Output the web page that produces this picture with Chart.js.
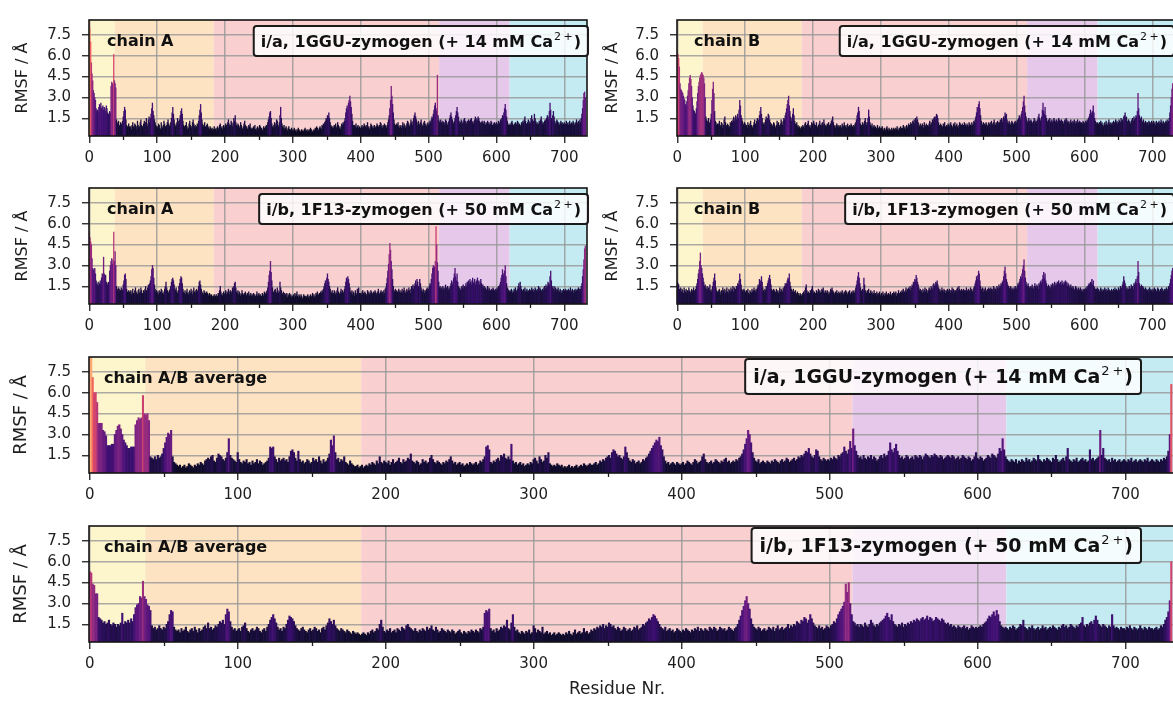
<!DOCTYPE html>
<html>
<head>
<meta charset="utf-8">
<script src="https://cdn.jsdelivr.net/npm/chart.js@4.4.1/dist/chart.umd.min.js"></script>
<style>
  html, body { margin: 0; padding: 0; background: #ffffff; width: 1173px; height: 705px; overflow: hidden; position: relative; }
  canvas { position: absolute; }
</style>
</head>
<body>
<canvas id="iaA"></canvas>
<canvas id="iaB"></canvas>
<canvas id="ibA"></canvas>
<canvas id="ibB"></canvas>
<canvas id="iaAvg"></canvas>
<canvas id="ibAvg"></canvas>
<script>
// Axis ticks
const residueTicks = [0, 100, 200, 300, 400, 500, 600, 700];
const residueMinorTicks = [50, 150, 250, 350, 450, 550, 650];
const rmsfTicks = [1.5, 3.0, 4.5, 6.0, 7.5];

// Domain ranges along the sequence (residue numbers) and their shading
const domainStart = [0, 38, 184, 516, 620];
const domainEnd = [38, 184, 516, 620, 734];
const domainColor = ['#fdf5cb', '#fde3c2', '#f9cfd0', '#e6c8ea', '#c3ebf1'];

// Simulated systems
const systemNames = ['i/a, 1GGU-zymogen', 'i/b, 1F13-zymogen'];
const calciumConc = ['14 mM', '50 mM'];

// Per-residue RMSF, in units of 0.1 Å (residues 0..731)
const rmsfIaChainA = [
85,80,70,55,47,42,35,33,30,28,22,20,21,19,23,25,24,26,22,23,
24,21,23,22,20,24,22,19,18,17,20,19,38,41,40,39,61,42,40,37,
14,12,11,13,10,9,12,11,10,13,16,20,23,21,14,10,9,8,11,9,
8,9,7,10,12,9,8,11,10,7,9,13,10,8,9,12,14,10,9,8,
11,13,10,12,15,11,9,14,16,12,15,18,22,26,20,17,14,12,10,9,
8,9,11,10,8,7,12,9,8,10,13,11,9,8,10,12,14,11,9,10,
12,15,19,23,18,14,11,9,10,12,15,13,11,14,17,20,22,18,13,10,
9,8,10,12,9,7,8,11,13,10,9,8,12,14,11,9,10,8,9,11,
10,13,17,21,25,19,14,11,9,10,12,9,8,10,11,9,8,7,9,8,
7,8,6,7,9,8,7,6,8,9,7,8,10,11,9,8,7,9,10,8,
9,11,10,8,12,14,11,9,10,13,12,9,11,15,13,17,12,10,9,11,
10,8,9,12,10,8,7,9,11,13,10,8,9,7,8,10,9,11,8,7,
8,7,9,8,10,7,6,8,9,7,8,10,9,7,8,6,7,9,8,7,
9,10,8,12,14,16,19,20,15,11,9,8,10,12,9,11,14,13,10,9,
12,17,23,15,11,9,8,10,7,8,9,7,6,8,9,7,6,7,8,6,
7,6,8,7,6,5,7,6,8,7,6,5,6,7,6,5,6,7,8,6,
6,7,5,6,7,6,8,7,6,5,6,7,6,8,7,9,8,7,6,8,
9,8,7,10,9,11,10,12,13,15,14,17,16,19,15,12,10,9,8,9,
8,10,9,11,8,9,12,10,9,8,7,9,11,10,12,11,13,15,19,22,
24,21,26,28,31,27,23,18,13,10,8,10,9,11,8,9,10,8,9,7,
8,9,10,8,9,11,10,9,8,10,12,9,8,7,9,11,10,8,9,8,
10,9,8,9,11,10,9,8,10,12,11,9,8,10,9,11,10,9,8,10,
12,14,17,22,28,38,31,25,19,14,11,10,9,11,10,12,9,8,10,9,
8,10,12,9,11,10,8,9,11,13,12,10,9,11,14,12,10,13,15,17,
19,16,14,12,10,13,11,10,12,14,11,9,10,12,13,11,10,9,11,12,
10,11,13,12,14,16,15,18,21,24,26,22,20,46,17,14,12,13,14,12,
11,13,12,10,12,14,13,11,10,12,13,15,17,19,16,14,12,11,13,15,
17,20,23,19,16,13,11,12,14,13,11,12,14,15,13,12,11,13,12,14,
13,12,14,15,13,12,11,13,14,16,15,13,14,16,15,13,12,11,12,13,
12,11,13,12,10,11,12,13,11,12,10,11,13,12,10,9,11,12,10,11,
12,11,10,13,12,11,14,13,15,17,16,19,22,25,21,16,13,11,10,10,
11,10,12,13,11,10,9,11,12,10,11,13,12,10,11,9,10,12,11,13,
12,14,16,13,11,10,12,14,13,11,12,15,17,14,12,13,18,15,13,11,
12,10,11,13,12,14,16,13,11,12,10,13,14,12,15,17,16,14,20,26,
21,15,13,17,20,16,13,11,12,14,13,12,11,10,12,13,11,12,10,11,
12,10,11,13,12,11,10,12,13,11,10,12,11,13,12,10,11,12,14,11,
12,13,11,14,12,15,18,22,28,33,34,30
];

const rmsfIaChainB = [
62,61,58,52,40,36,35,34,33,31,29,28,25,24,27,31,35,40,44,46,
43,38,30,24,21,20,19,18,22,27,33,38,41,44,46,47,48,47,46,44,
40,30,16,14,13,12,15,12,11,14,18,28,36,41,33,20,13,12,10,11,
9,11,13,10,9,12,11,8,10,14,16,12,10,9,11,10,8,9,12,11,
13,12,14,16,13,15,17,14,16,18,15,21,28,24,17,15,13,11,10,12,
11,9,10,8,12,10,9,11,13,10,9,8,10,12,14,11,10,13,15,12,
14,17,20,23,18,15,12,11,10,12,14,16,13,15,18,17,14,12,10,11,
9,10,12,11,9,8,10,13,11,12,10,9,11,14,12,10,13,15,14,17,
19,22,25,28,31,24,20,16,13,15,18,22,17,13,11,10,12,9,10,8,
9,8,7,9,8,10,9,8,11,12,10,9,11,13,10,9,8,10,12,11,
10,13,11,9,10,12,9,8,10,11,13,10,9,11,12,10,14,11,9,10,
9,11,10,12,10,9,11,13,14,16,12,10,9,8,10,11,9,10,8,9,
10,9,8,11,10,9,12,10,9,8,10,11,9,8,10,9,11,10,9,8,
10,9,11,12,14,17,19,23,20,15,11,10,9,12,10,11,13,15,12,10,
12,15,21,16,12,10,9,11,8,9,10,8,9,7,8,10,8,7,9,8,
7,8,9,7,6,8,7,6,8,9,7,6,8,7,6,7,8,6,7,8,
7,6,8,7,9,7,6,8,7,9,8,7,8,10,9,8,7,9,10,8,
9,11,10,8,12,11,10,13,12,14,11,15,13,16,14,12,10,9,11,10,
9,11,10,8,12,10,9,11,8,10,9,11,13,10,12,11,14,13,15,16,
14,16,18,17,15,12,10,9,11,10,8,9,11,10,12,9,8,10,9,11,
10,9,11,12,10,9,8,11,10,12,9,10,11,9,8,10,12,11,9,10,
11,9,10,12,11,10,9,11,10,9,12,11,10,9,12,10,11,13,12,14,
16,19,23,21,25,27,22,17,13,11,10,12,9,11,10,12,11,9,10,12,
11,10,12,13,11,10,12,14,11,10,12,11,13,12,10,12,14,13,15,12,
14,16,15,19,17,18,14,12,11,13,12,10,11,13,12,11,10,12,13,11,
12,14,13,15,17,16,14,18,20,23,27,31,24,19,16,14,12,13,15,13,
12,14,13,11,12,13,15,14,12,13,11,14,16,18,15,13,14,16,21,26,
20,18,23,17,15,13,12,14,13,15,12,13,14,12,13,15,14,12,13,14,
12,13,15,14,12,13,14,12,13,11,12,14,13,15,14,12,13,12,11,13,
14,12,11,13,12,14,13,11,12,13,14,12,11,13,12,10,12,11,13,12,
11,12,13,12,14,13,15,16,18,21,19,17,20,24,19,15,13,12,11,12,
10,11,12,10,13,11,12,10,9,11,12,10,13,11,10,12,14,11,12,10,
11,12,10,13,12,11,14,12,13,11,12,14,13,12,15,13,14,12,16,17,
19,15,16,13,12,14,13,12,11,13,14,15,13,16,14,15,17,16,20,33,
22,17,15,14,16,13,12,14,11,12,13,12,11,12,10,13,12,11,12,13,
11,12,13,11,12,10,13,12,11,12,13,11,12,14,12,11,13,12,11,12,
13,12,14,12,13,15,19,24,30,36,40,34
];

const rmsfIbChainA = [
54,50,47,45,35,28,27,26,28,24,19,17,16,18,15,17,19,16,21,24,
23,36,24,22,23,18,17,16,18,17,26,30,33,35,31,34,54,33,40,30,
15,13,12,14,13,11,12,14,13,12,16,19,23,24,20,13,11,10,12,11,
10,12,9,11,13,10,9,12,14,11,10,9,12,13,10,11,14,12,10,9,
12,11,13,15,12,10,14,16,13,17,19,22,27,30,28,21,16,13,11,12,
10,11,9,12,10,11,13,12,10,9,11,13,15,18,14,12,11,10,12,13,
15,18,20,21,19,16,13,12,14,11,10,12,15,17,20,22,21,17,13,11,
10,12,9,11,13,10,9,11,12,10,13,11,9,12,14,11,10,12,13,11,
12,15,18,19,16,13,11,10,9,12,11,10,9,11,10,9,8,10,9,8,
9,8,7,8,9,7,8,9,7,8,10,9,12,15,11,9,8,10,11,9,
10,12,9,11,10,13,11,9,12,10,11,14,13,15,17,18,14,11,10,12,
9,11,10,8,9,12,10,9,8,10,11,9,8,10,9,11,8,9,10,8,
9,8,10,9,7,8,9,11,8,9,10,8,9,7,8,10,9,8,11,10,
9,11,12,14,18,23,26,33,25,19,14,11,10,12,13,11,10,14,12,10,
11,18,14,12,10,9,11,8,10,9,8,10,7,9,8,10,8,9,7,8,
8,9,7,10,8,9,11,8,7,9,8,7,9,8,6,7,9,8,7,8,
7,8,9,7,8,6,9,8,7,10,8,9,7,8,10,9,11,8,9,10,
9,11,10,12,11,13,15,17,19,16,21,24,20,18,15,13,11,10,12,9,
10,12,11,9,10,12,14,11,10,9,11,13,10,12,11,10,13,15,18,21,
19,22,20,17,14,11,10,12,9,11,10,8,12,10,9,13,11,14,10,9,
10,9,11,12,10,9,11,10,8,9,12,10,11,9,10,12,11,9,10,11,
10,12,11,9,10,11,13,10,9,11,12,10,11,9,12,10,13,14,17,21,
26,31,38,46,41,33,27,20,15,12,11,13,10,12,11,10,13,11,12,10,
11,13,10,12,14,11,10,12,13,11,12,14,12,10,13,15,14,16,13,15,
17,19,16,20,18,15,14,20,17,14,12,11,13,12,10,12,11,13,14,12,
13,15,17,16,20,24,28,30,27,29,33,58,45,32,26,18,14,15,13,14,
12,15,13,14,12,16,14,13,15,12,14,13,15,17,19,16,18,21,24,28,
22,19,24,18,15,13,14,12,13,15,14,16,13,15,14,17,15,18,16,19,
17,20,18,16,19,21,17,18,20,16,18,19,21,17,19,16,18,20,17,15,
16,14,15,13,14,12,13,15,12,14,13,12,11,13,12,14,13,12,11,13,
12,14,13,15,14,16,18,21,23,27,24,22,26,30,22,17,14,13,12,11,
12,11,13,12,10,11,13,12,14,12,11,13,15,17,14,18,15,13,12,11,
13,12,14,11,12,13,11,12,10,13,12,11,14,12,13,11,12,14,13,12,
11,13,15,12,14,13,12,11,13,12,14,15,13,16,14,15,18,17,16,22,
26,19,15,14,13,15,12,14,11,13,12,14,12,11,13,12,10,12,11,13,
12,11,13,12,10,12,13,11,12,14,12,11,13,12,10,12,13,11,12,13,
12,14,13,11,13,15,17,22,27,34,42,44
];

const rmsfIbChainB = [
18,17,16,13,12,14,11,13,12,10,14,12,11,13,10,12,11,14,12,10,
11,13,12,10,14,12,11,13,15,17,20,24,27,33,39,30,28,24,21,18,
15,16,14,13,15,12,14,13,16,12,11,13,15,18,21,24,19,14,12,11,
10,12,13,11,9,12,10,14,12,11,13,10,12,14,11,10,13,12,11,14,
12,13,15,11,14,12,13,15,14,17,16,19,24,20,16,13,12,11,13,12,
11,10,12,11,13,10,9,12,11,10,13,11,12,14,12,11,13,12,14,16,
15,20,17,19,22,18,14,12,11,13,12,15,14,17,19,21,23,20,16,13,
12,11,13,12,10,11,13,12,11,10,12,14,11,13,12,11,14,13,15,17,
15,17,19,21,20,24,18,15,13,12,11,13,10,11,12,10,9,11,10,9,
8,10,9,8,9,10,11,9,12,14,16,12,10,11,9,10,12,11,13,15,
12,10,11,9,10,12,11,10,13,11,12,10,11,13,12,14,11,10,12,11,
10,12,11,9,10,11,13,12,14,12,11,10,9,11,10,12,10,9,11,10,
9,11,10,12,10,9,11,10,12,11,10,9,11,10,12,9,10,11,10,12,
11,10,12,14,16,19,22,25,21,17,14,12,11,13,12,21,16,12,11,10,
12,11,13,10,9,12,10,11,9,10,12,9,10,8,11,9,10,9,11,8,
9,10,8,11,9,8,10,9,11,8,9,10,8,9,11,9,8,10,9,11,
10,9,11,8,10,9,12,10,9,11,10,12,11,13,10,11,12,14,11,13,
12,14,13,15,12,14,16,15,18,17,20,19,23,21,18,16,14,12,13,11,
12,10,13,11,12,14,11,13,12,10,12,14,13,12,15,14,13,16,17,15,
16,18,17,19,16,14,12,13,11,12,14,12,11,13,12,10,12,11,13,12,
11,13,12,10,12,14,11,13,12,10,12,11,13,14,12,15,13,12,11,13,
12,11,13,12,10,12,14,11,12,13,11,12,14,12,13,11,12,14,15,17,
19,22,20,23,26,24,19,15,13,12,14,11,13,12,14,12,11,13,12,14,
13,12,14,13,11,13,15,12,14,13,12,15,14,13,16,14,15,17,16,18,
19,22,26,29,24,20,18,16,15,14,13,15,12,14,13,12,14,13,15,14,
13,15,17,16,18,20,22,21,24,27,30,34,26,21,18,16,15,17,15,14,
13,15,14,16,14,13,15,17,15,14,16,15,13,17,16,18,19,17,20,23,
25,21,24,19,17,15,14,16,15,13,14,16,15,17,14,16,18,15,17,16,
18,16,19,17,15,18,16,19,17,16,18,17,19,16,18,15,17,16,14,15,
16,14,13,15,14,12,13,15,14,13,12,14,13,12,14,13,12,11,13,12,
13,12,14,13,15,14,16,17,15,18,17,20,16,19,15,14,13,12,13,14,
12,13,11,12,14,12,13,11,12,13,14,12,13,11,12,14,13,12,11,12,
13,12,11,13,12,14,12,13,11,12,14,13,12,15,13,14,16,18,22,19,
17,15,13,14,12,13,15,14,13,16,14,15,13,17,16,18,20,17,22,33,
25,17,15,14,16,13,15,14,12,13,14,12,13,12,11,13,14,12,13,12,
11,13,12,14,12,13,11,12,14,13,12,11,13,12,14,13,12,11,13,12,
13,14,12,13,15,14,17,20,23,26,28,22
];

const rmsfIaAverage = [
86,86,71,60,60,53,38,38,38,33,32,29,22,22,22,23,23,30,33,36,
37,34,30,26,24,22,20,20,21,21,21,37,40,42,41,42,58,45,44,45,
40,14,13,12,14,12,15,13,14,16,20,24,28,31,30,33,14,10,9,8,
7,8,6,7,8,6,7,9,8,7,6,8,7,9,8,10,9,8,11,12,
13,12,14,15,11,10,13,16,15,14,12,11,13,17,27,15,13,12,11,10,
17,12,10,9,11,10,12,9,10,8,11,9,10,12,9,11,10,8,9,10,
11,13,21,20,21,14,12,10,13,11,12,13,11,12,10,14,18,19,17,13,
11,18,12,10,11,9,10,12,11,9,10,13,11,12,10,14,11,9,12,10,
11,13,16,26,22,29,17,12,13,10,12,11,14,10,9,8,11,9,8,7,
7,8,6,7,8,6,7,8,7,9,8,10,9,8,11,9,14,10,9,11,
10,9,11,8,10,12,9,10,11,13,10,9,12,10,11,13,12,16,11,10,
9,11,10,8,9,12,10,11,9,10,13,15,12,10,9,11,10,9,8,10,
9,11,10,12,14,11,9,10,8,9,10,8,9,7,8,9,8,10,9,8,
9,10,8,9,11,10,12,14,21,22,19,10,9,11,10,12,13,11,15,14,
16,13,12,14,12,23,11,9,10,8,9,10,8,9,7,8,9,8,10,9,
12,13,11,9,14,12,10,11,15,13,17,9,8,7,8,7,9,8,7,8,
6,7,6,7,8,6,7,6,7,8,6,7,8,7,9,8,7,8,9,8,
8,9,10,8,9,11,10,12,11,13,14,15,13,17,19,18,16,14,15,13,
12,14,21,17,13,11,10,12,11,9,10,11,9,10,12,11,13,14,16,18,
20,22,24,26,25,28,22,19,14,11,9,10,8,9,10,9,8,10,9,8,
9,10,8,9,11,10,9,8,10,12,11,9,10,11,14,16,12,10,9,10,
11,9,10,12,11,10,9,11,10,12,13,10,11,9,10,11,10,12,11,13,
14,16,19,23,27,33,30,24,17,13,11,10,12,9,10,11,10,9,11,10,
9,11,10,12,11,10,9,11,12,10,11,13,12,10,11,12,13,11,12,14,
13,15,14,16,18,17,20,16,14,13,15,19,18,14,12,11,13,12,11,12,
11,13,12,14,13,12,15,14,16,17,21,18,16,19,25,20,34,22,18,15,
13,14,12,15,13,12,14,13,15,12,14,13,11,12,14,15,13,16,14,15,
18,24,19,17,20,23,18,15,13,14,12,13,15,14,12,13,14,12,15,14,
13,15,14,12,14,16,15,14,13,15,14,16,15,14,13,15,14,12,13,14,
15,14,13,15,14,12,13,14,12,13,15,14,13,12,14,13,11,12,14,17,
13,12,14,13,11,12,13,15,14,13,16,15,14,13,16,20,18,27,19,14,
12,11,10,12,11,10,12,9,11,10,12,11,10,13,11,12,10,11,13,12,
11,15,12,11,10,12,11,13,12,11,10,13,12,15,12,10,11,12,13,11,
14,20,12,11,10,12,11,13,10,11,12,13,11,12,10,11,19,12,13,11,
12,13,14,33,15,20,13,12,11,12,10,13,11,12,10,11,12,10,11,12,
11,10,12,11,13,10,11,12,10,11,12,11,10,12,11,13,10,11,12,11,
10,12,11,10,12,11,13,12,14,18,30,66
];

const rmsfIbAverage = [
53,52,44,43,37,37,20,19,18,16,17,15,16,18,15,14,16,15,13,15,
14,16,23,15,17,16,18,16,19,17,22,27,29,30,35,34,46,35,33,29,
28,25,14,12,13,11,12,14,12,11,13,12,15,17,22,25,24,13,11,10,
11,9,12,10,11,13,10,9,11,12,10,13,11,9,12,10,11,13,14,12,
16,12,13,11,12,14,13,15,17,16,18,15,22,26,24,17,13,11,12,10,
11,12,10,13,14,16,12,10,9,11,12,10,11,13,12,10,9,11,12,10,
13,15,18,20,22,19,16,13,11,12,10,13,12,15,18,21,20,19,17,14,
12,11,10,12,13,11,10,9,11,12,10,11,13,12,10,11,9,12,13,11,
14,16,19,17,15,18,14,12,11,10,12,11,10,9,11,10,9,8,10,9,
8,9,8,7,8,9,8,7,9,8,10,11,9,10,12,11,15,18,13,10,
9,11,10,12,9,10,11,9,12,11,10,13,12,11,14,15,13,12,11,10,
12,10,9,11,10,12,11,10,13,11,12,14,11,10,13,11,9,10,12,11,
10,9,11,10,9,11,10,8,9,10,11,9,8,10,9,8,10,9,11,10,
9,11,10,9,12,11,13,23,25,24,26,12,10,11,9,12,10,11,13,12,
14,13,18,12,11,16,22,13,10,11,9,8,10,9,8,10,9,11,8,9,
14,12,9,11,10,9,13,8,9,10,8,9,7,8,9,7,8,9,8,7,
8,7,9,8,10,8,7,9,11,8,9,10,8,9,12,9,10,8,9,11,
10,12,11,13,12,14,13,15,12,14,13,16,15,13,14,12,11,13,12,10,
11,13,12,10,11,12,10,11,13,12,14,11,12,13,15,14,16,17,19,18,
20,22,21,19,17,15,13,12,11,13,10,11,12,10,11,9,10,12,11,10,
9,11,10,12,11,10,9,11,10,12,11,13,10,12,11,10,12,11,10,13,
12,11,13,12,10,11,13,12,11,12,10,11,13,12,11,10,12,13,15,18,
21,25,28,32,35,30,26,19,15,13,12,11,13,12,10,11,12,10,11,13,
12,11,13,10,12,14,11,12,13,11,12,13,15,12,14,13,15,14,17,16,
15,18,17,20,19,16,18,22,19,16,14,13,12,14,12,13,11,12,14,13,
12,14,15,17,16,19,22,24,26,28,31,44,38,45,30,22,17,16,14,15,
13,15,14,13,16,14,13,15,18,16,14,13,15,14,16,17,18,19,21,23,
20,18,22,17,15,14,13,15,14,16,13,15,14,16,15,17,16,18,17,19,
18,17,19,20,18,19,21,18,20,19,17,18,20,19,18,17,19,18,16,15,
16,14,15,13,14,13,12,14,13,12,13,14,12,13,11,12,14,13,12,13,
12,13,14,13,15,16,17,19,21,20,22,24,21,25,22,17,14,13,12,13,
12,11,13,12,14,13,11,12,13,15,14,18,13,12,11,13,12,14,12,11,
12,13,11,12,14,12,13,11,12,13,12,14,13,12,11,13,12,14,15,13,
14,12,13,15,14,13,12,14,13,15,16,20,14,13,15,14,16,17,15,18,
21,18,15,14,13,15,14,13,12,14,13,22,14,12,13,12,11,13,12,12,
11,13,12,14,12,11,13,12,11,12,14,12,11,13,12,11,13,12,12,11,
12,13,11,12,14,13,15,18,20,24,32,60
];

// matplotlib "magma" colour map, sampled at 0.0, 0.1, ..., 1.0
const magmaStops = ['#000004', '#140e36', '#3b0f70', '#641a80', '#8c2981', '#b73779',
                    '#de4968', '#f7705c', '#fe9f6d', '#fecf92', '#fcfdbf'];
const magmaRgb = magmaStops.map(h => [1, 3, 5].map(i => parseInt(h.substr(i, 2), 16)));
const COLOR_VMAX = 10.5;
function magma(t) {
  t = Math.max(0, Math.min(1, t));
  const p = t * 10, i = Math.min(9, Math.floor(p)), f = p - i;
  const a = magmaRgb[i], b = magmaRgb[i + 1];
  return 'rgb(' + a.map((c, k) => Math.round(c + (b[k] - c) * f)).join(',') + ')';
}

const FONT = 'DejaVu Sans';
const INK = '#1e1e1e';
const X_MIN = -0.5, X_MAX = 733.5;

// Panel layout: canvas placement plus the fixed widths of the axis boxes
const panels = [
  { id: 'iaA', values: rmsfIaChainA, chain: 'chain A', sys: 0, x: 0, y: 0, w: 590, h: 170, padRight: 3, yw: 89, xh: 34, wide: false, chainDx: 18 },
  { id: 'iaB', values: rmsfIaChainB, chain: 'chain B', sys: 0, x: 590, y: 0, w: 585, h: 170, padRight: 0, yw: 87, xh: 34, wide: false, chainDx: 17 },
  { id: 'ibA', values: rmsfIbChainA, chain: 'chain A', sys: 1, x: 0, y: 168, w: 590, h: 170, padRight: 3, yw: 89, xh: 34, wide: false, chainDx: 18 },
  { id: 'ibB', values: rmsfIbChainB, chain: 'chain B', sys: 1, x: 590, y: 168, w: 585, h: 170, padRight: 0, yw: 87, xh: 34, wide: false, chainDx: 17 },
  { id: 'iaAvg', values: rmsfIaAverage, chain: 'chain A/B average', sys: 0, x: 0, y: 337, w: 1175, h: 170, padRight: 0, yw: 89, xh: 34, wide: true, chainDx: 15 },
  { id: 'ibAvg', values: rmsfIbAverage, chain: 'chain A/B average', sys: 1, x: 0, y: 506, w: 1175, h: 199, padRight: 0, yw: 89, xh: 63, wide: true, chainDx: 15, xTitle: 'Residue Nr.' }
];

function roundRect(ctx, x, y, w, h, r) {
  ctx.beginPath();
  ctx.moveTo(x + r, y);
  ctx.lineTo(x + w - r, y);
  ctx.arcTo(x + w, y, x + w, y + r, r);
  ctx.lineTo(x + w, y + h - r);
  ctx.arcTo(x + w, y + h, x + w - r, y + h, r);
  ctx.lineTo(x + r, y + h);
  ctx.arcTo(x, y + h, x, y + h - r, r);
  ctx.lineTo(x, y + r);
  ctx.arcTo(x, y, x + r, y, r);
  ctx.closePath();
}

// Shaded domains behind everything
const domainBands = {
  id: 'domainBands',
  beforeDraw(chart) {
    const { ctx, chartArea: a, scales: { x } } = chart;
    ctx.save();
    ctx.beginPath();
    ctx.rect(a.left, a.top, a.right - a.left, a.bottom - a.top);
    ctx.clip();
    domainStart.forEach((s, i) => {
      const x0 = x.getPixelForValue(s - 0.5), x1 = x.getPixelForValue(domainEnd[i] - 0.5);
      ctx.fillStyle = domainColor[i];
      ctx.fillRect(x0, a.top, x1 - x0, a.bottom - a.top);
    });
    ctx.restore();
  }
};

// Frame, minor ticks, labels
const decorations = {
  id: 'decorations',
  afterDraw(chart, args, opts) {
    const p = opts.panel;
    const { ctx, chartArea: a, scales: { x } } = chart;
    ctx.save();
    // minor ticks on the residue axis
    ctx.strokeStyle = INK;
    ctx.lineWidth = 1.3;
    residueMinorTicks.forEach(v => {
      const px = Math.round(x.getPixelForValue(v)) + 0.5;
      ctx.beginPath();
      ctx.moveTo(px, a.bottom);
      ctx.lineTo(px, a.bottom + 4);
      ctx.stroke();
    });
    // frame
    ctx.strokeStyle = '#141414';
    ctx.lineWidth = 1.6;
    ctx.strokeRect(a.left, a.top, a.right - a.left, a.bottom - a.top);

    // chain label
    ctx.fillStyle = '#111';
    ctx.font = 'bold 16px "' + FONT + '"';
    ctx.textBaseline = 'middle';
    ctx.textAlign = 'left';
    ctx.fillText(p.chain, a.left + p.chainDx, a.top + 22);

    // system label box
    const fs = p.wide ? 19 : 16;
    const supFs = Math.round(fs * 0.68);
    const main = systemNames[p.sys] + ' (+ ' + calciumConc[p.sys] + ' Ca';
    ctx.font = 'bold ' + fs + 'px "' + FONT + '"';
    const w1 = ctx.measureText(main).width;
    const w3 = ctx.measureText(')').width;
    ctx.font = supFs + 'px "' + FONT + '"';
    const wTwo = ctx.measureText('2').width, wPlus = ctx.measureText('+').width;
    const gap = supFs * 0.22;
    const w2 = wTwo + gap + wPlus + 2;
    const pad = p.wide ? 8 : 7;
    const bw = w1 + w2 + w3 + 2 * pad;
    const bh = p.wide ? 35 : 30;
    const right = p.wide ? 1141 - p.x : Math.min(a.right + 1, p.w - 1);
    const left = right - bw;
    const top = a.top + (p.wide ? 2 : 6);
    roundRect(ctx, left, top, bw, bh, 3);
    ctx.fillStyle = 'rgba(255,255,255,0.82)';
    ctx.fill();
    ctx.strokeStyle = '#1a1a1a';
    ctx.lineWidth = 2;
    ctx.stroke();
    const base = top + bh / 2 + fs * 0.36;
    ctx.textBaseline = 'alphabetic';
    ctx.fillStyle = '#111';
    ctx.font = 'bold ' + fs + 'px "' + FONT + '"';
    ctx.fillText(main, left + pad, base);
    ctx.font = supFs + 'px "' + FONT + '"';
    const sx = left + pad + w1 + 1;
    ctx.fillText('2', sx, base - fs * 0.42);
    ctx.fillText('+', sx + wTwo + gap, base - fs * 0.42);
    ctx.font = 'bold ' + fs + 'px "' + FONT + '"';
    ctx.fillText(')', sx + w2 - 1, base);

    // axis title under the last panel
    if (p.xTitle) {
      ctx.font = '17px "' + FONT + '"';
      ctx.textAlign = 'center';
      ctx.textBaseline = 'middle';
      ctx.fillStyle = INK;
      ctx.fillText(p.xTitle, 617 - p.x, 690 - p.y);
    }
    ctx.restore();
  }
};

panels.forEach(p => {
  const canvas = document.getElementById(p.id);
  canvas.width = p.w;
  canvas.height = p.h;
  canvas.style.width = p.w + 'px';
  canvas.style.height = p.h + 'px';
  canvas.style.left = p.x + 'px';
  canvas.style.top = p.y + 'px';

  const rmsf = p.values.map(v => v / 10);
  new Chart(canvas, {
    type: 'bar',
    data: {
      datasets: [{
        data: rmsf.map((v, i) => ({ x: i, y: v })),
        backgroundColor: rmsf.map(v => magma(v / COLOR_VMAX)),
        borderWidth: 0,
        barPercentage: 1,
        categoryPercentage: 1,
        grouped: false
      }]
    },
    options: {
      responsive: false,
      animation: false,
      devicePixelRatio: 1,
      events: [],
      layout: { padding: { left: 0, top: 11, right: p.padRight, bottom: 0 } },
      plugins: {
        legend: { display: false },
        tooltip: { enabled: false },
        decorations: { panel: p }
      },
      scales: {
        x: {
          type: 'linear',
          min: X_MIN,
          max: X_MAX,
          offset: false,
          z: 1,
          afterBuildTicks: s => { s.ticks = residueTicks.map(v => ({ value: v })); },
          afterFit: s => { s.height = p.xh; },
          ticks: {
            autoSkip: false, maxRotation: 0, minRotation: 0, padding: 6,
            color: INK, font: { family: FONT, size: 15 },
            callback: v => String(v)
          },
          grid: {
            offset: false,
            color: 'rgba(150,150,150,0.8)', lineWidth: 1.5,
            tickColor: INK, tickLength: 7, tickWidth: 1.3
          },
          border: { display: false }
        },
        y: {
          type: 'linear',
          min: 0.23,
          max: 8.57,
          z: 1,
          afterBuildTicks: s => { s.ticks = rmsfTicks.map(v => ({ value: v })); },
          afterFit: s => { s.width = p.yw; },
          ticks: {
            padding: 11, color: INK, font: { family: FONT, size: 15 },
            callback: v => v.toFixed(1)
          },
          grid: {
            color: 'rgba(150,150,150,0.8)', lineWidth: 1.5,
            tickColor: INK, tickLength: 7, tickWidth: 1.3
          },
          border: { display: false },
          title: {
            display: true,
            text: 'RMSF / Å',
            color: INK,
            font: { family: FONT, size: p.wide ? 18 : 16 },
            padding: { top: p.wide ? 11 : 13, bottom: 0 }
          }
        }
      }
    },
    plugins: [domainBands, decorations]
  });
});
</script>
</body>
</html>
